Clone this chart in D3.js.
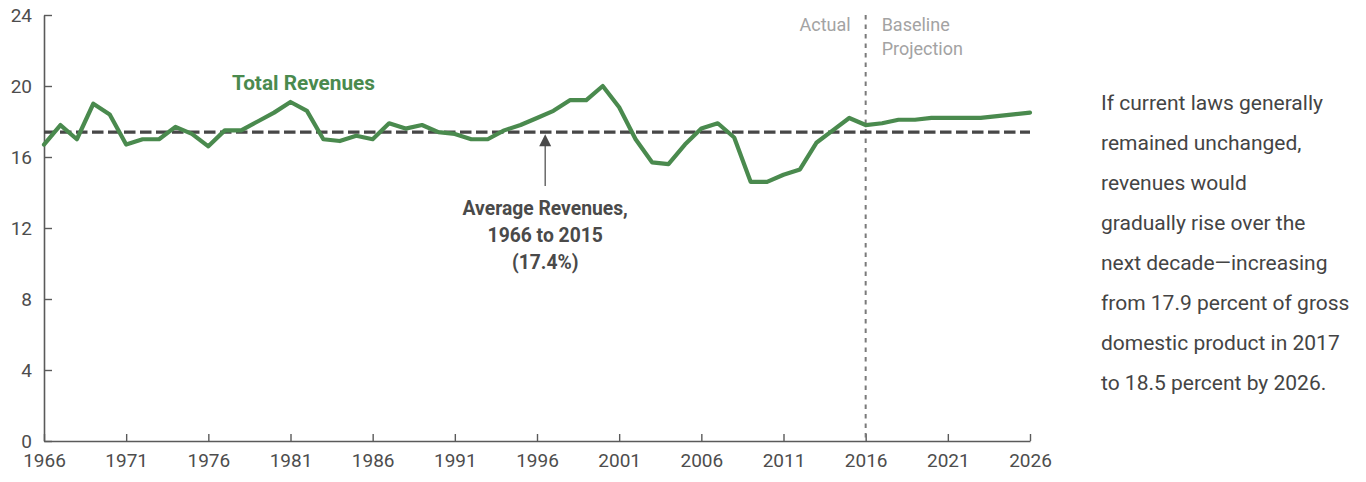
<!DOCTYPE html>
<html>
<head>
<meta charset="utf-8">
<script src="https://cdn.jsdelivr.net/npm/d3@7"></script>
<style>
  body { margin: 0; background: #fff; }
  text { font-family: Roboto, "Open Sans", sans-serif; }
</style>
</head>
<body>
<div id="chart"></div>
<script>
// revenues as % of GDP, 1966-2015 actual, 2016-2026 baseline projection
var firstYear = 1966;
var revenues = [
  16.7, 17.8, 17.0, 19.0, 18.4, 16.7, 17.0, 17.0, 17.7, 17.3,
  16.6, 17.5, 17.5, 18.0, 18.5, 19.1, 18.6, 17.0, 16.9, 17.2,
  17.0, 17.9, 17.6, 17.8, 17.4, 17.3, 17.0, 17.0, 17.5, 17.8,
  18.2, 18.6, 19.2, 19.2, 20.0, 18.8, 17.0, 15.7, 15.6, 16.7,
  17.6, 17.9, 17.1, 14.6, 14.6, 15.0, 15.3, 16.8, 17.5, 18.2,
  17.8, 17.9, 18.1, 18.1, 18.2, 18.2, 18.2, 18.2, 18.3, 18.4,
  18.5
];
var averageRevenue = 17.4;
var splitYear = 2016;
var arrowYear = 1996.5;

var xTickYears = [1966, 1971, 1976, 1981, 1986, 1991, 1996, 2001, 2006, 2011, 2016, 2021, 2026];
var yTicks = [0, 4, 8, 12, 16, 20, 24];

var avgLabel = ["Average Revenues,", "1966 to 2015", "(17.4%)"];
var sideNote = [
  "If current laws generally",
  "remained unchanged,",
  "revenues would",
  "gradually rise over the",
  "next decade\u2014increasing",
  "from 17.9 percent of gross",
  "domestic product in 2017",
  "to 18.5 percent by 2026."
];

var data = revenues.map(function(v, i) { return { year: firstYear + i, value: v }; });

var svgWidth = 1366;
var svgHeight = 482;
var margin = { top: 15, left: 44 };
var width = 986;
var height = 426;

var green = "#4a8a4e";
var axisColor = "#5a5a5a";

var svg = d3.select("#chart")
  .append("svg")
  .attr("width", svgWidth)
  .attr("height", svgHeight);

var chart = svg.append("g")
  .attr("transform", `translate(${margin.left}, ${margin.top})`);

var x = d3.scaleLinear().domain([1966, 2026]).range([0, width]);
var y = d3.scaleLinear().domain([0, 24]).range([height, 0]);

// axes (ticks point inward)
var xAxis = chart.append("g")
  .attr("transform", `translate(0, ${height})`)
  .call(d3.axisBottom(x).tickValues(xTickYears).tickFormat(d3.format("d")).tickSizeInner(-7).tickSizeOuter(0).tickPadding(13));

var yAxis = chart.append("g")
  .call(d3.axisLeft(y).tickValues(yTicks).tickSizeInner(-8).tickSizeOuter(0).tickPadding(12));

[xAxis, yAxis].forEach(function(a) {
  a.select(".domain").attr("stroke", axisColor).attr("stroke-width", 1.6);
  a.selectAll(".tick line").attr("stroke", axisColor).attr("stroke-width", 1.4);
  a.selectAll(".tick text")
    .attr("fill", "#4d4d4d")
    .style("font-size", "19px")
    .style("font-family", "Roboto, sans-serif");
});
yAxis.selectAll(".tick text").attr("dy", "0.34em");

// actual / projection divider
chart.append("line")
  .attr("x1", x(splitYear)).attr("x2", x(splitYear))
  .attr("y1", 0).attr("y2", height)
  .attr("stroke", "#7a7a7a")
  .attr("stroke-width", 2)
  .attr("stroke-dasharray", "4.5,5");

chart.append("text")
  .attr("x", x(splitYear) - 15)
  .attr("y", 16)
  .attr("text-anchor", "end")
  .attr("fill", "#a3a3a3")
  .style("font-size", "18px")
  .text("Actual");

chart.append("text")
  .attr("x", x(splitYear) + 16)
  .attr("y", 16)
  .attr("fill", "#a3a3a3")
  .style("font-size", "18px")
  .selectAll("tspan")
  .data(["Baseline", "Projection"])
  .enter().append("tspan")
  .attr("x", x(splitYear) + 16)
  .attr("dy", (d, i) => i === 0 ? 0 : 24)
  .text(d => d);

// average line
chart.append("line")
  .attr("x1", 0).attr("x2", width)
  .attr("y1", y(averageRevenue)).attr("y2", y(averageRevenue))
  .attr("stroke", "#474747")
  .attr("stroke-width", 3.2)
  .attr("stroke-dasharray", "11.5,4.5");

// revenue line
var line = d3.line()
  .x(d => x(d.year))
  .y(d => y(d.value));

chart.append("path")
  .datum(data)
  .attr("fill", "none")
  .attr("stroke", green)
  .attr("stroke-width", 4.2)
  .attr("stroke-linejoin", "round")
  .attr("stroke-linecap", "round")
  .attr("d", line);

chart.append("text")
  .attr("x", 188)
  .attr("y", 75)
  .attr("fill", green)
  .style("font-size", "20.8px")
  .style("font-weight", "bold")
  .text("Total Revenues");

// arrow to average line
var ax = x(arrowYear);
var ay = y(averageRevenue) + 2;
chart.append("line")
  .attr("x1", ax).attr("x2", ax)
  .attr("y1", ay + 10).attr("y2", 171)
  .attr("stroke", "#6a6a6a")
  .attr("stroke-width", 1.5);
chart.append("path")
  .attr("d", `M${ax},${ay} L${ax - 6},${ay + 12} L${ax + 6},${ay + 12} Z`)
  .attr("fill", "#4a4a4a");

chart.append("text")
  .attr("x", ax)
  .attr("y", 200)
  .attr("text-anchor", "middle")
  .attr("fill", "#4a4a4a")
  .style("font-size", "19.3px")
  .style("font-weight", "bold")
  .selectAll("tspan")
  .data(avgLabel)
  .enter().append("tspan")
  .attr("x", ax)
  .attr("dy", (d, i) => i === 0 ? 0 : 27)
  .text(d => d);

// side note
svg.append("text")
  .attr("x", 1101)
  .attr("y", 110)
  .attr("fill", "#444")
  .style("font-size", "21px")
  .selectAll("tspan")
  .data(sideNote)
  .enter().append("tspan")
  .attr("x", 1101)
  .attr("dy", (d, i) => i === 0 ? 0 : 40)
  .text(d => d);
</script>
</body>
</html>
